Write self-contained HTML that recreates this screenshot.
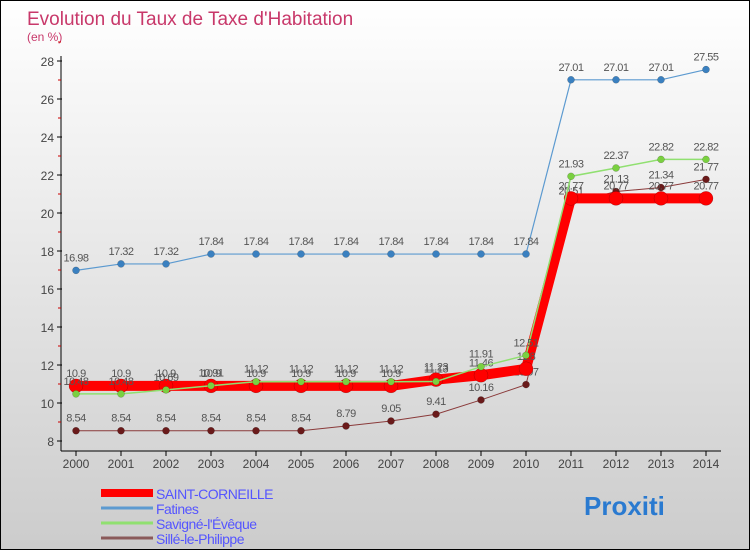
<!DOCTYPE html>
<html><head><meta charset="utf-8"><style>
body{margin:0}
#c{width:750px;height:550px;position:relative;background:linear-gradient(#fff,#ccc);border:1px solid #000;box-sizing:border-box;overflow:hidden;font-family:"Liberation Sans",sans-serif}
</style></head><body>
<div id="c">
<svg id="s" width="750" height="550" style="position:absolute;left:0;top:0"></svg>
</div>
<script>
const years=[2000,2001,2002,2003,2004,2005,2006,2007,2008,2009,2010,2011,2012,2013,2014];
const yTicks=[8,10,12,14,16,18,20,22,24,26,28];
const saint=[10.9,10.9,10.9,10.9,10.9,10.9,10.9,10.9,11.23,11.46,11.8,20.77,20.77,20.77,20.77];
const fatines=[16.98,17.32,17.32,17.84,17.84,17.84,17.84,17.84,17.84,17.84,17.84,27.01,27.01,27.01,27.55];
const savigne=[10.48,10.48,10.69,10.91,11.12,11.12,11.12,11.12,11.13,11.91,12.51,21.93,22.37,22.82,22.82];
const sille=[8.54,8.54,8.54,8.54,8.54,8.54,8.79,9.05,9.41,10.16,10.97,20.51,21.13,21.34,21.77];
const ns="http://www.w3.org/2000/svg",S=document.getElementById('s');
const X=i=>75+i*45, Y=v=>440-(v-8)*19;
function el(t,a,name,txt){const e=document.createElementNS(ns,t);for(const k in a)e.setAttribute(k,a[k]);


if(txt!==undefined)e.textContent=txt;S.appendChild(e);return e;}
el('text',{x:26,y:24,'font-size':19,fill:'#c8386a'},'chart-title','Evolution du Taux de Taxe d\'Habitation');
el('text',{x:26,y:40,'font-size':12,fill:'#c8386a'},'y-axis-unit','(en %)');
el('line',{x1:60,y1:55,x2:60,y2:450,stroke:'#000'},'y-axis');
el('line',{x1:60,y1:450,x2:720,y2:450,stroke:'#000'},'x-axis');
yTicks.forEach(v=>{el('line',{x1:56,x2:61,y1:Y(v),y2:Y(v),stroke:'#000'},'y-tick');
el('line',{x1:57,x2:60,y1:Y(v+1),y2:Y(v+1),stroke:'#c00'},'y-minor-tick');
el('text',{x:53,y:Y(v)+5,'font-size':12,fill:'#444','text-anchor':'end'},'y-tick-label',v);});
years.forEach((y,i)=>{el('line',{x1:X(i),x2:X(i),y1:450,y2:455,stroke:'#000'},'x-tick');
el('text',{x:X(i),y:467,'font-size':12,fill:'#444','text-anchor':'middle'},'x-tick-label',y);});
function series(d,col,w,r,pc,name){
el('polyline',{points:d.map((v,i)=>X(i)+','+Y(v)).join(' '),fill:'none',stroke:col,'stroke-width':w},name+'-line');
d.forEach((v,i)=>{el('circle',{cx:X(i),cy:Y(v),r:r,fill:pc,stroke:'rgba(0,0,0,0.3)','stroke-width':0.5},name+'-point');
el('text',{x:X(i),y:Y(v)-9,'font-size':11,fill:'#555','text-anchor':'middle','letter-spacing':'-0.5'},name+'-value',v);});}
series(sille,'#8a3a3a',1,3.5,'#6a1a1a','sille');
series(saint,'#f00',10,7,'#f00','saint-corneille');
series(savigne,'#90e070',1.5,3.5,'#7ad040','savigne');
series(fatines,'#5c9ad0',1.2,3.5,'#3a80c0','fatines');
const leg=[['SAINT-CORNEILLE','#f00',8],['Fatines','#5c9ad0',3],['Savigné-l\'Évêque','#90e070',3],['Sillé-le-Philippe','#8a5a5a',3]];
leg.forEach((l,i)=>{const y=492+i*15;
el('line',{x1:100,x2:152,y1:y,y2:y,stroke:l[1],'stroke-width':l[2]},'legend-swatch');
el('text',{x:155,y:y+6,'font-size':14,fill:'#55f','letter-spacing':'-0.5'},'legend-entry',l[0]);});
el('text',{x:583,y:514,'font-size':26,fill:'#2a7ad0','font-weight':'bold'},'proxiti-logo','Proxiti');
</script>
</body></html>
